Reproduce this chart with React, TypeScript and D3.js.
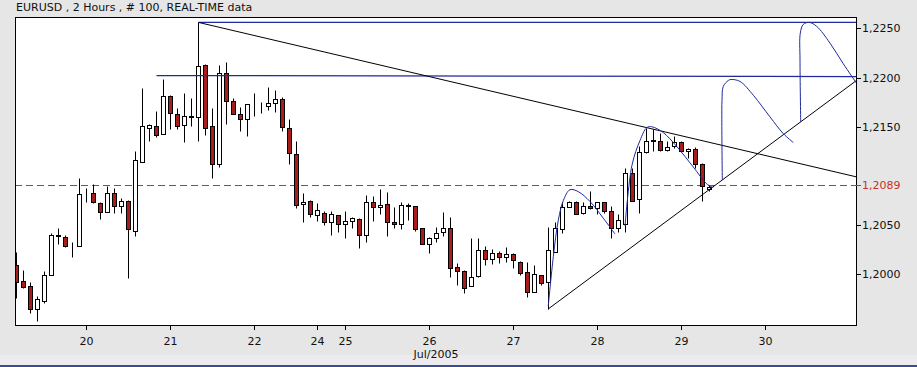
import React from 'react';
import * as d3 from 'd3';

// 2h EURUSD bars, index 0..99
const opens = [
  1.2009, 1.1993, 1.1988, 1.1965, 1.1973, 1.1999, 1.2039, 1.2038, 1.2030, 1.2029,
  1.2082, 1.2083, 1.2072, 1.2063, 1.2083, 1.2069, 1.2075, 1.2044, 1.2114, 1.2149,
  1.2151, 1.2143, 1.2181, 1.2163, 1.2152, 1.2160, 1.2160, 1.2213, 1.2151, 1.2112,
  1.2205, 1.2176, 1.2163, 1.2158, 1.2172, 1.2172, 1.2171, 1.2174, 1.2178, 1.2149,
  1.2122, 1.2071, 1.2075, 1.2060, 1.2062, 1.2053, 1.2060, 1.2051, 1.2054, 1.2056,
  1.2040, 1.2074, 1.2068, 1.2071, 1.2053, 1.2051, 1.2069, 1.2069, 1.2047, 1.2031,
  1.2037, 1.2043, 1.2047, 1.2007, 1.2003, 1.1988, 1.1998, 1.2025, 1.2016, 1.2022,
  1.2018, 1.2021, 1.2013, 1.2002, 1.1982, 1.1999, 1.1992, 1.2023, 1.2046, 1.2068,
  1.2074, 1.2062, 1.2069, 1.2067, 1.2074, 1.2064, 1.2047, 1.2051, 1.2103, 1.2077,
  1.2124, 1.2135, 1.2135, 1.2126, 1.2130, 1.2134, 1.2125, 1.2127, 1.2112, 1.2087,
];
const highs = [
  1.2023, 1.2004, 1.1992, 1.1978, 1.2003, 1.2042, 1.2047, 1.2040, 1.2033, 1.2098,
  1.2088, 1.2092, 1.2074, 1.2090, 1.2088, 1.2078, 1.2076, 1.2125, 1.2189, 1.2153,
  1.2166, 1.2199, 1.2182, 1.2169, 1.2184, 1.2179, 1.2256, 1.2214, 1.2169, 1.2213,
  1.2216, 1.2179, 1.2170, 1.2173, 1.2184, 1.2175, 1.2190, 1.2187, 1.2180, 1.2158,
  1.2135, 1.2083, 1.2076, 1.2072, 1.2064, 1.2064, 1.2060, 1.2064, 1.2058, 1.2057,
  1.2081, 1.2080, 1.2087, 1.2084, 1.2068, 1.2074, 1.2072, 1.2069, 1.2047, 1.2038,
  1.2048, 1.2063, 1.2058, 1.2011, 1.2004, 1.2037, 1.2037, 1.2029, 1.2026, 1.2024,
  1.2028, 1.2022, 1.2014, 1.2013, 1.2009, 1.1999, 1.2048, 1.2053, 1.2074, 1.2075,
  1.2075, 1.2074, 1.2085, 1.2074, 1.2074, 1.2069, 1.2061, 1.2108, 1.2108, 1.2130,
  1.2149, 1.2148, 1.2144, 1.2135, 1.2141, 1.2135, 1.2128, 1.2129, 1.2113, 1.2091,
];
const lows = [
  1.1976, 1.1986, 1.1961, 1.1953, 1.1971, 1.1999, 1.2031, 1.2028, 1.2018, 1.2029,
  1.2074, 1.2072, 1.2056, 1.2063, 1.2062, 1.2062, 1.1996, 1.2039, 1.2114, 1.2135,
  1.2140, 1.2143, 1.2148, 1.2148, 1.2134, 1.2151, 1.2135, 1.2142, 1.2098, 1.2109,
  1.2153, 1.2163, 1.2146, 1.2141, 1.2161, 1.2164, 1.2167, 1.2165, 1.2146, 1.2112,
  1.2067, 1.2053, 1.2058, 1.2054, 1.2050, 1.2040, 1.2043, 1.2037, 1.2047, 1.2027,
  1.2033, 1.2054, 1.2061, 1.2039, 1.2047, 1.2046, 1.2055, 1.2044, 1.2031, 1.2022,
  1.2033, 1.2039, 1.1997, 1.1989, 1.1981, 1.1988, 1.1997, 1.2009, 1.2010, 1.2011,
  1.2013, 1.2006, 1.1999, 1.1977, 1.1982, 1.1989, 1.1965, 1.2023, 1.2042, 1.2068,
  1.2061, 1.2061, 1.2066, 1.2061, 1.2062, 1.2037, 1.2043, 1.2043, 1.2075, 1.2062,
  1.2123, 1.2125, 1.2125, 1.2125, 1.2128, 1.2124, 1.2118, 1.2108, 1.2075, 1.2085,
];
const closes = [
  1.1992, 1.1987, 1.1965, 1.1975, 1.1999, 1.2040, 1.2040, 1.2029, 1.2030, 1.2082,
  1.2082, 1.2073, 1.2063, 1.2083, 1.2069, 1.2075, 1.2046, 1.2116, 1.2151, 1.2152,
  1.2142, 1.2181, 1.2164, 1.2151, 1.2161, 1.2161, 1.2212, 1.2149, 1.2112, 1.2205,
  1.2176, 1.2163, 1.2158, 1.2173, 1.2172, 1.2172, 1.2174, 1.2178, 1.2150, 1.2123,
  1.2070, 1.2074, 1.2061, 1.2065, 1.2053, 1.2061, 1.2051, 1.2054, 1.2057, 1.2040,
  1.2074, 1.2068, 1.2070, 1.2053, 1.2051, 1.2070, 1.2070, 1.2046, 1.2031, 1.2037,
  1.2042, 1.2047, 1.2006, 1.2003, 1.1986, 1.1997, 1.2025, 1.2016, 1.2022, 1.2018,
  1.2021, 1.2015, 1.2001, 1.1982, 1.2000, 1.1991, 1.2025, 1.2047, 1.2068, 1.2074,
  1.2061, 1.2069, 1.2067, 1.2074, 1.2064, 1.2047, 1.2055, 1.2103, 1.2075, 1.2124,
  1.2135, 1.2136, 1.2126, 1.2129, 1.2134, 1.2125, 1.2127, 1.2112, 1.2090, 1.2089,
];

const lastPrice = 1.2089;
const priceTicks = [1.2, 1.205, 1.215, 1.22, 1.225];
const dayIndex = [10, 22, 34, 43, 47, 59, 71, 83, 95, 107];
const dayLabels = ['20', '21', '22', '24', '25', '26', '27', '28', '29', '30'];

// drawn studies: [bar index, price]
const resistLine: [number, number][] = [[26, 1.2256], [120, 1.2099]];
const supportLine: [number, number][] = [[76, 1.1965], [120, 1.2197]];
const topLevel: [number, number][] = [[26, 1.2256], [120, 1.2256]];
const midLevel: [number, number][] = [[20, 1.2202], [120, 1.2201]];
const arc1: [number, number][] = [
  [75.97, 1.1968], [76.69, 1.2018], [77.4, 1.2055], [78.12, 1.2075], [79.07, 1.2086],
  [80.26, 1.2084], [81.93, 1.2074], [83.83, 1.2057], [85.5, 1.2041],
];
const arc2: [number, number][] = [
  [86.93, 1.2049], [87.93, 1.2111], [89.07, 1.2136], [90.03, 1.2149], [90.74, 1.215],
  [92.4, 1.2144], [94.31, 1.213], [96.69, 1.2109], [98.6, 1.2092], [99.54, 1.2088],
];
const arc3: [number, number][] = [
  [100.83, 1.2096], [100.76, 1.2157], [100.79, 1.2177], [100.97, 1.2191], [101.69, 1.2197],
  [102.07, 1.2198], [103.36, 1.2196], [105.26, 1.2182], [107.64, 1.216], [109.54, 1.2143],
  [110.97, 1.2134],
];
const arc4: [number, number][] = [
  [112.03, 1.2155], [111.93, 1.2218], [111.97, 1.2245], [112.4, 1.2254], [113.26, 1.2256],
  [114.31, 1.2252], [116.21, 1.2235], [118.11, 1.2214], [120.03, 1.2194],
];

const W = 917;
const H = 367;
const left = 15;
const right = 856;
const top = 17;
const bottom = 325;

const fmt = (v: number) => v.toFixed(4).replace('.', ',');
const crisp = (v: number) => Math.round(v) + 0.5;

export default function App() {
  const x = d3.scaleLinear().domain([0, 99]).range([16.5, 709.5]);
  const y = d3.scaleLinear().domain([1.19485, 1.22615]).range([bottom, top]);

  const straight = d3.line<[number, number]>().x(d => x(d[0])).y(d => y(d[1]));
  const curve = d3.line<[number, number]>()
    .x(d => x(d[0])).y(d => y(d[1]))
    .curve(d3.curveCatmullRom.alpha(0.5));

  const font = '"DejaVu Sans", Verdana, sans-serif';
  const blue = '#1f2a9c';
  const red = '#a81c1c';
  // last price marker sits a touch above its nominal value in the original
  const lastY = Math.round(y(lastPrice)) - 1.5;

  return (
    <div style={{ position: 'absolute', left: 0, top: 0 }}>
      <svg width={W} height={H} style={{ display: 'block' }}>
        <defs>
          <clipPath id="plot">
            <rect x={left} y={top} width={right - left} height={bottom - top} />
          </clipPath>
        </defs>
        <rect width={W} height={H} fill="#e6e6e6" />
        <rect y={355} width={W} height={10} fill="#ececf0" />
        <rect y={365} width={W} height={2} fill="#3c4c8c" />

        <text x={16} y={11} fontFamily={font} fontSize={11} fill="#111">
          EURUSD , 2 Hours , # 100, REAL-TIME data
        </text>

        <rect x={left + 0.5} y={top + 0.5} width={right - left} height={bottom - top} fill="#fff" stroke="none" />

        <g clipPath="url(#plot)">
          <line x1={left} x2={right} y1={lastY} y2={lastY}
            stroke="#c8302c" strokeDasharray="7,4" />

          {opens.map((o, i) => {
            const c = closes[i];
            const cx = x(i);
            const up = c >= o;
            const yt = crisp(y(Math.max(o, c)));
            const yb = crisp(y(Math.min(o, c)));
            return (
              <g key={i}>
                <line x1={cx} x2={cx} y1={crisp(y(highs[i]))} y2={crisp(y(lows[i]))} stroke="#000" />
                <rect x={cx - 2} y={yt} width={4} height={Math.max(0, yb - yt)}
                  fill={up ? '#fff' : red} stroke="#000" />
              </g>
            );
          })}

          <path d={straight(topLevel) ?? ''} fill="none" stroke={blue} strokeWidth={1.2} />
          <path d={straight(midLevel) ?? ''} fill="none" stroke={blue} strokeWidth={1.2} />
          <path d={straight(resistLine) ?? ''} fill="none" stroke="#000" />
          <path d={straight(supportLine) ?? ''} fill="none" stroke="#000" />
          {[arc1, arc2, arc3, arc4].map((a, k) => (
            <path key={k} d={curve(a) ?? ''} fill="none" stroke={blue} strokeWidth={1} />
          ))}
        </g>

        <rect x={left + 0.5} y={top + 0.5} width={right - left} height={bottom - top} fill="none" stroke="#000" />

        {priceTicks.map(v => (
          <g key={v} transform={`translate(0,${crisp(y(v))})`}>
            <line x1={right} x2={right + 5} stroke="#000" />
            <text x={right + 6} dy="0.36em" fontFamily={font} fontSize={11} fill="#111">{fmt(v)}</text>
          </g>
        ))}
        <g transform={`translate(0,${lastY})`}>
          <line x1={right} x2={right + 5} stroke="#c8302c" />
          <text x={right + 6} dy="0.36em" fontFamily={font} fontSize={11} fill="#c8302c">{fmt(lastPrice)}</text>
        </g>

        {dayIndex.map((d, k) => (
          <g key={d} transform={`translate(${x(d)},0)`}>
            <line y1={bottom} y2={bottom + 5} stroke="#000" />
            <text y={345} textAnchor="middle" fontFamily={font} fontSize={11} fill="#111">{dayLabels[k]}</text>
          </g>
        ))}
        <text x={436} y={358} textAnchor="middle" fontFamily={font} fontSize={11} fill="#111">Jul/2005</text>
      </svg>
    </div>
  );
}
